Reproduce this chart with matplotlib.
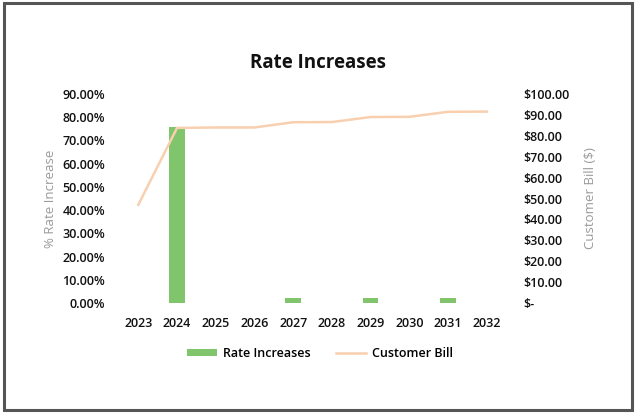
import numpy as np
import matplotlib
matplotlib.use("Agg")
import matplotlib.pyplot as plt
from matplotlib.patches import Rectangle

## DONNEES
years = [2023, 2024, 2025, 2026, 2027, 2028, 2029, 2030, 2031, 2032]
rate_inc = [0.0, 76.0, 0.0, 0.0, 2.0, 0.0, 2.0, 0.0, 2.0, 0.0]  # %
bill = [47.0, 83.8, 84.0, 84.0, 86.5, 86.6, 89.0, 89.1, 91.5, 91.6]  # $

pct_ticks = np.arange(0, 91, 10)
usd_ticks = np.arange(0, 101, 10)
usd_labels = ["$-"] + ["$%.2f" % v for v in usd_ticks[1:]]

plt.rcParams['font.family'] = ['Open Sans', 'DejaVu Sans']

fig = plt.figure(figsize=(6.36, 4.13), dpi=100)
# cadre exterieur
fig.patches.append(Rectangle((0.006, 0.008), 0.988, 0.984, transform=fig.transFigure,
                             fill=False, edgecolor="#555555", linewidth=2.2))

ax = fig.add_axes([0.187, 0.2663, 0.609, 0.506])
x = np.arange(len(years))
b = ax.bar(x, rate_inc, width=0.4, color="#80c46c", label="Rate Increases", zorder=2)
ax.set_ylim(0, 90)
ax.set_xlim(-0.5, len(years) - 0.5)
ax.set_yticks(pct_ticks)
ax.set_yticklabels(["%.2f%%" % v for v in pct_ticks])
ax.set_xticks(x)
ax.set_xticklabels([str(y) for y in years])
ax.set_ylabel("% Rate Increase", color="#9a9a9a", fontsize=9.5, labelpad=4)
for s in ax.spines.values():
    s.set_visible(False)
ax.tick_params(length=0, labelsize=9, colors="#111111")
ax.tick_params(axis='y', pad=10)
ax.tick_params(axis='x', pad=10)
for t in ax.get_xticklabels() + ax.get_yticklabels():
    t.set_fontweight("semibold")

ax2 = ax.twinx()
l, = ax2.plot(x, bill, color="#f8d0b0", linewidth=1.8, label="Customer Bill", zorder=3)
ax2.set_ylim(0, 100)
ax2.set_yticks(usd_ticks)
ax2.set_yticklabels(usd_labels)
ax2.set_ylabel("Customer Bill ($)", color="#9a9a9a", fontsize=9.5, labelpad=11)
for s in ax2.spines.values():
    s.set_visible(False)
ax2.tick_params(length=0, labelsize=9, colors="#111111", pad=12)
for t in ax2.get_yticklabels():
    t.set_fontweight("semibold")

fig.text(0.5, 0.848, "Rate Increases", ha="center", va="center",
         fontsize=13.5, fontweight="bold", color="#111111")

leg = fig.legend([b, l], ["Rate Increases", "Customer Bill"], loc="center",
                 bbox_to_anchor=(0.503, 0.145), ncol=2, frameon=False, fontsize=9,
                 handlelength=2.4, handleheight=0.5, handletextpad=0.5,
                 columnspacing=2.0)
for t in leg.get_texts():
    t.set_fontweight("semibold")

plt.savefig("out.png", dpi=100)
